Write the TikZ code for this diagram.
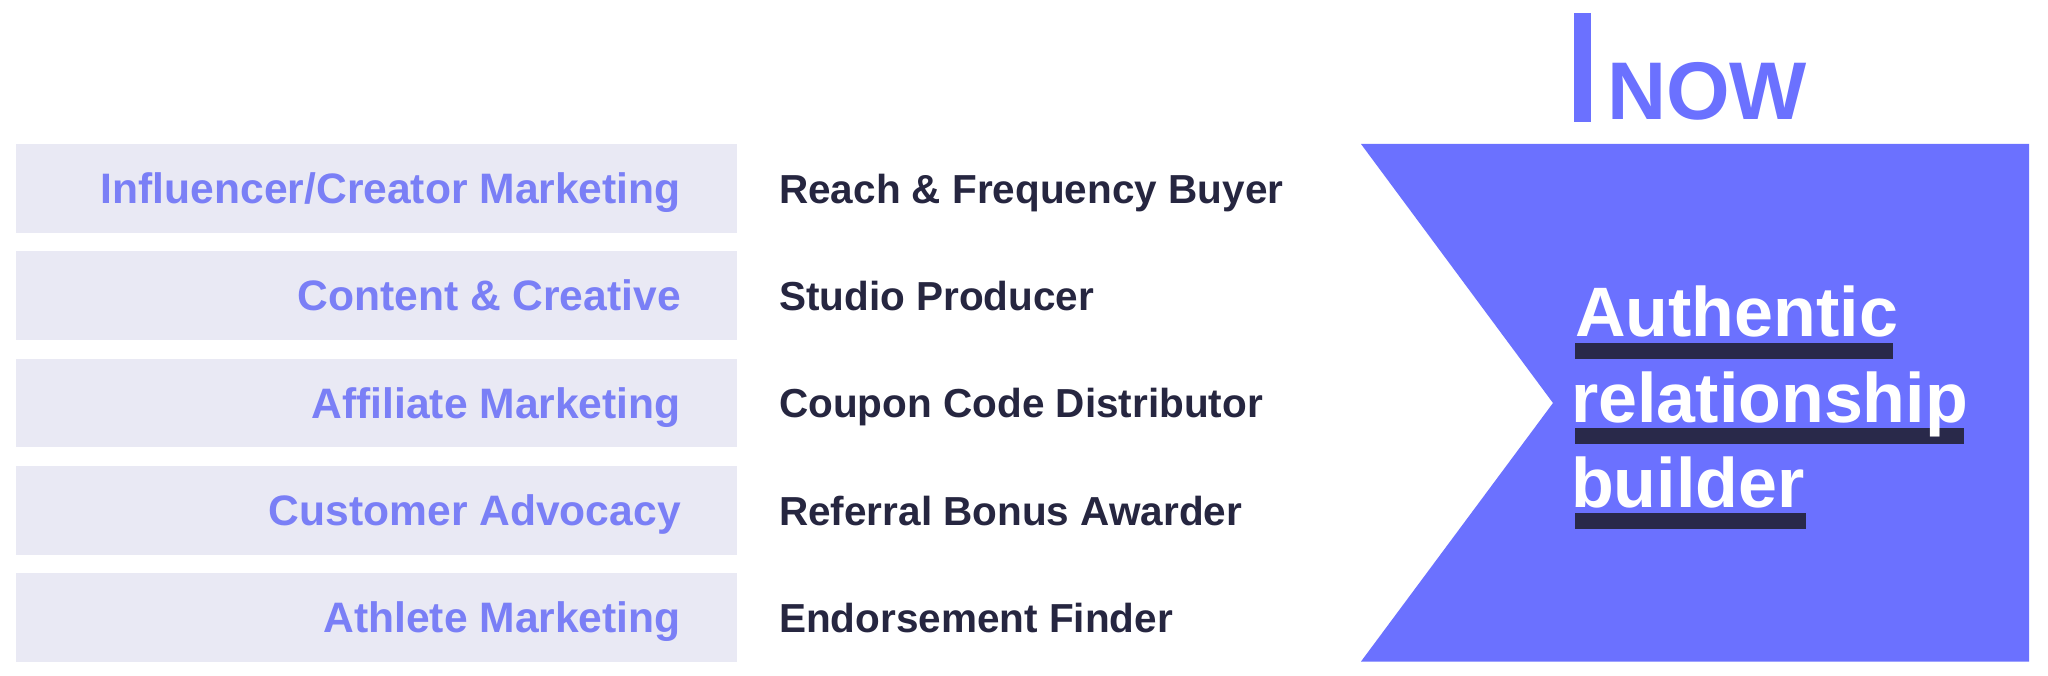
\documentclass[tikz,border=0pt]{standalone}
\usepackage{fontspec}
\setmainfont{Liberation Sans}
\definecolor{chev}{HTML}{6B71FF}
\definecolor{lbl}{HTML}{7A7FF6}
\definecolor{boxfill}{HTML}{E9E9F4}
\definecolor{navy}{HTML}{262640}
\definecolor{uline}{HTML}{29294A}
\begin{document}
\begin{tikzpicture}[x=1pt,y=-1pt,
  lbox/.style={rectangle,draw=none,fill=boxfill,minimum width=721pt,minimum height=88.5pt,inner sep=0pt,anchor=north west},
  ltext/.style={inner sep=0pt,anchor=base east,text=lbl,font=\fontsize{42.6}{50}\selectfont\bfseries},
  mtext/.style={inner sep=0pt,anchor=base west,text=navy,font=\fontsize{40.5}{48}\selectfont\bfseries},
  bigtext/.style={inner sep=0pt,anchor=base west,text=white,font=\fontsize{70}{84}\selectfont\bfseries},
  ulbar/.style={fill=uline,draw=none}]
\useasboundingbox (0,0) rectangle (2048,676);
\fill[white] (0,0) rectangle (2048,676);
% left boxes
\node[lbox] (b1) at (16,144) {};
\node[lbox] (b2) at (16,251.3) {};
\node[lbox] (b3) at (16,358.6) {};
\node[lbox] (b4) at (16,465.9) {};
\node[lbox] (b5) at (16,573.2) {};
% left labels
\node[ltext] (l1) at (681,203.5) {Influencer/Creator Marketing};
\node[ltext] (l2) at (681,310.8) {Content \& Creative};
\node[ltext] (l3) at (681,418.1) {Affiliate Marketing};
\node[ltext] (l4) at (681,525.4) {Customer Advocacy};
\node[ltext] (l5) at (681,632.7) {Athlete Marketing};
% middle texts
\node[mtext] (m1) at (779,203.3) {Reach \& Frequency Buyer};
\node[mtext] (m2) at (779,310.6) {Studio Producer};
\node[mtext] (m3) at (779,417.9) {Coupon Code Distributor};
\node[mtext] (m4) at (779,525.2) {Referral Bonus Awarder};
\node[mtext] (m5) at (779,632.5) {Endorsement Finder};
% chevron
\fill[chev] (1361,144) -- (2029,144) -- (2029,661.5) -- (1361,661.5) -- (1553,403) -- cycle;
% NOW marker
\fill[chev] (1574,12.7) rectangle (1591,121.7);
\node[inner sep=0pt,anchor=base west,text=chev,font=\fontsize{81.8}{90}\selectfont\bfseries] (now) at (1607,119.5) {NOW};
% underlines
\fill[ulbar] (1575,342.7) rectangle (1893,359.3);
\fill[ulbar] (1575,427.7) rectangle (1964,444.3);
\fill[ulbar] (1575,512.7) rectangle (1806,529.3);
% big text
\node[bigtext] (t1) at (1575,337) {Authentic};
\node[bigtext] (t2) at (1571,422) {relationship};
\node[bigtext] (t3) at (1571,507) {builder};
\end{tikzpicture}
\end{document}
